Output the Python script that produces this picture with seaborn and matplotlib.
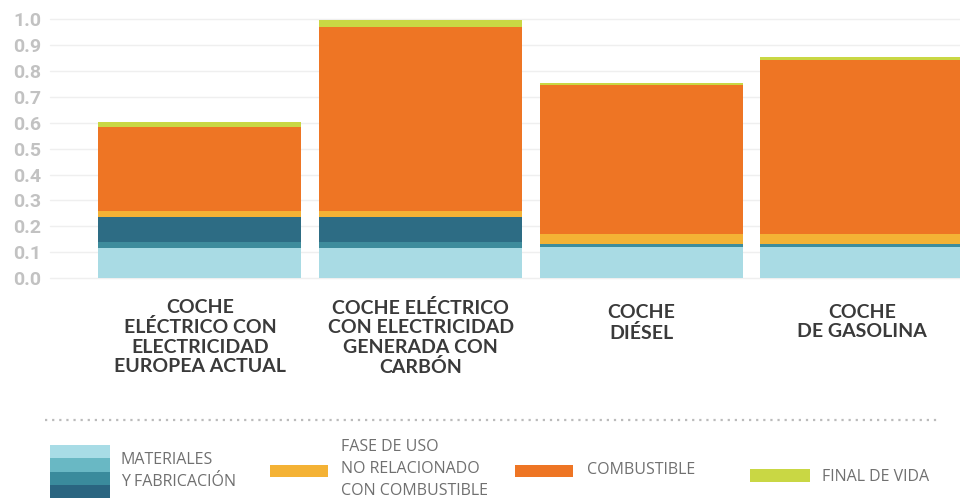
import numpy as np
import pandas as pd
import matplotlib
matplotlib.use('Agg')
import matplotlib.pyplot as plt
import seaborn as sns

# data
coches = ['COCHE\nELÉCTRICO CON\nELECTRICIDAD\nEUROPEA ACTUAL',
          'COCHE ELÉCTRICO\nCON ELECTRICIDAD\nGENERADA CON\nCARBÓN',
          'COCHE\nDIÉSEL',
          'COCHE\nDE GASOLINA']
mat_claro = [0.115, 0.115, 0.12, 0.12]
mat_medio = [0.025, 0.025, 0.011, 0.011]
mat_oscuro = [0.097, 0.097, 0.0, 0.0]
uso_no_comb = [0.022, 0.022, 0.041, 0.041]
combustible = [0.325, 0.71, 0.573, 0.67]
final_vida = [0.02, 0.026, 0.008, 0.011]
yticks = [0.0, 0.1, 0.2, 0.3, 0.4, 0.5, 0.6, 0.7, 0.8, 0.9, 1.0]

# colours
c_claro = '#a9dbe4'
c_medio = '#3e8c9c'
c_oscuro = '#2d6c84'
c_amarillo = '#f4b235'
c_naranja = '#ee7524'
c_verde = '#c9d744'
gris_txt = '#707070'

df = pd.DataFrame({'coche': coches, 'claro': mat_claro, 'medio': mat_medio,
                   'oscuro': mat_oscuro, 'uso': uso_no_comb,
                   'comb': combustible, 'final': final_vida})
capas = ['claro', 'medio', 'oscuro', 'uso', 'comb', 'final']
colores = [c_claro, c_medio, c_oscuro, c_amarillo, c_naranja, c_verde]
acum = df[capas].cumsum(axis=1)

sns.set_style('white')
fig = plt.figure(figsize=(9.6, 5.03), dpi=100)
ax = fig.add_axes([0.052, 0.447, 0.948, 0.515])

# stacked bars: draw cumulative totals from top layer down
for capa, col in reversed(list(zip(capas, colores))):
    sns.barplot(x=df['coche'], y=acum[capa], color=col, width=0.92,
                saturation=1, ax=ax, zorder=3, linewidth=0)

ax.set_xlim(-0.68, 3.445)
ax.set_ylim(0, 1.0)
ax.set_yticks(yticks)
ax.set_yticklabels(['%.1f' % v for v in yticks], fontsize=14,
                   fontweight='bold', color='#c2c2c2', family='Roboto')
ax.tick_params(axis='y', length=0, pad=6)
ax.set_xticks([])
ax.set_xlabel('')
ax.set_ylabel('')
for v in yticks:
    ax.axhline(v, color='#efefef', lw=1, zorder=0, clip_on=False)
for s in ax.spines.values():
    s.set_visible(False)

# category labels
for i, c in enumerate(coches):
    y0 = -0.08 if i < 2 else -0.1
    ax.text(i, y0, c, ha='center', va='top', fontsize=14,
            fontweight='bold', color='#3a3a3a', family='Lato',
            linespacing=1.17, transform=ax.get_xaxis_transform())

# dotted separator
fig.add_artist(plt.Line2D([45 / 960, 940 / 960], [1 - 420 / 503, 1 - 420 / 503],
                          color='#bbbbbb', lw=1.6, ls=(0, (1, 2.2))))

# legend
def px(x, y):
    return x / 960, 1 - y / 503

franjas = ['#a8dce6', '#69b8c4', '#3a8b9c', '#2a6580']
for k, col in enumerate(franjas):
    x0, y0 = px(50, 445 + (k + 1) * 13.25)
    fig.add_artist(plt.Rectangle((x0, y0), 60 / 960, 13.25 / 503,
                                 color=col, lw=0))
for (x, y, w, h, col) in [(270, 465, 58, 12, c_amarillo),
                          (515, 465, 58, 12, c_naranja),
                          (750, 469, 60, 13, c_verde)]:
    x0, y0 = px(x, y + h)
    fig.add_artist(plt.Rectangle((x0, y0), w / 960, h / 503, color=col, lw=0))

tprops = dict(fontsize=11.5, color=gris_txt, family='Open Sans', va='center',
              ha='left', linespacing=1.5)
fig.text(*px(121, 471), 'MATERIALES\nY FABRICACIÓN', **tprops)
fig.text(*px(341, 469), 'FASE DE USO\nNO RELACIONADO\nCON COMBUSTIBLE', **tprops)
fig.text(*px(587, 470), 'COMBUSTIBLE', **tprops)
fig.text(*px(822, 477), 'FINAL DE VIDA', **tprops)

fig.savefig('out.png', dpi=100)
